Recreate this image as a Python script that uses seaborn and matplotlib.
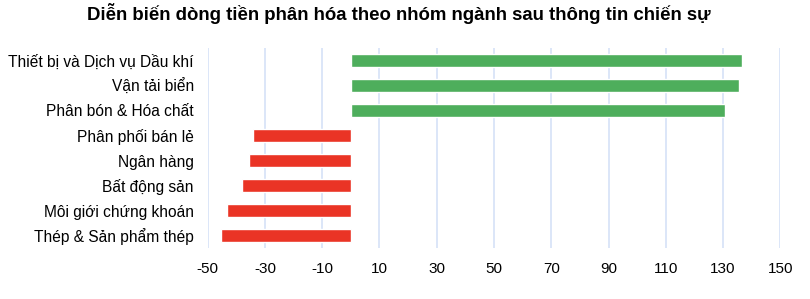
import matplotlib
matplotlib.use("Agg")
import matplotlib.pyplot as plt
import seaborn as sns
import pandas as pd

categories = [
    "Thiết bị và Dịch vụ Dầu khí",
    "Vận tải biển",
    "Phân bón & Hóa chất",
    "Phân phối bán lẻ",
    "Ngân hàng",
    "Bất động sản",
    "Môi giới chứng khoán",
    "Thép & Sản phẩm thép",
]
values = [136.7, 135.7, 130.7, -34.3, -35.4, -38.1, -43.2, -45.5]
xticks = [-50, -30, -10, 10, 30, 50, 70, 90, 110, 130, 150]
title = "Diễn biến dòng tiền phân hóa theo nhóm ngành sau thông tin chiến sự"

GREEN = "#4EAE5C"
RED = "#EA3425"
GRID = "#D6E2F7"

sns.set_theme(style="white")
plt.rcParams["font.family"] = ["Liberation Sans", "DejaVu Sans"]

df = pd.DataFrame({"cat": categories, "val": values})
colors = [GREEN if v >= 0 else RED for v in values]

fig = plt.figure(figsize=(8.1, 2.99), dpi=100)
ax = fig.add_axes([207.7 / 810, 1 - 248 / 299, (780.3 - 207.7) / 810, 200 / 299])

sns.barplot(data=df, x="val", y="cat", hue="cat", palette=colors, legend=False,
            orient="h", width=0.5, saturation=1, ax=ax, zorder=3)

ax.set_xlim(-50, 150)
ax.set_ylim(7.5, -0.5)
ax.set_xticks(xticks)
ax.set_xticklabels([str(t) for t in xticks])
ax.xaxis.grid(True, color=GRID, linewidth=1.2, zorder=0)
ax.yaxis.grid(False)
ax.set_axisbelow(True)
for s in ax.spines.values():
    s.set_visible(False)
ax.tick_params(axis="both", length=0, colors="black")
ax.tick_params(axis="y", pad=10, labelsize=11.2)
ax.tick_params(axis="x", pad=10, labelsize=11)
ax.set_xlabel("")
ax.set_ylabel("")

fig.text(86.7 / 810, 1 - 19.5 / 299, title, ha="left", va="baseline",
         fontsize=13.4, fontweight="bold", color="black")

fig.savefig("out.png", dpi=100)
